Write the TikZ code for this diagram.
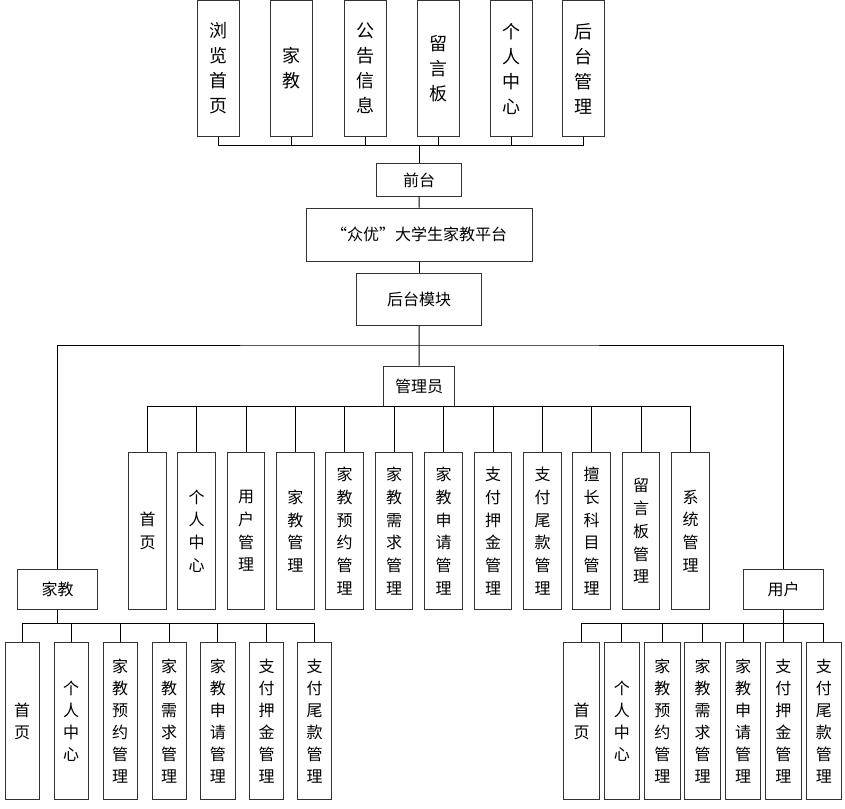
\documentclass[tikz,border=0pt]{standalone}
\usepackage{fontspec}
\newfontfamily\cjk{Noto Sans CJK SC}
\tikzset{
  box/.style={draw=black!80, line width=1pt, fill=white, inner sep=0pt, align=center},
  hdr/.style={box, font=\cjk\fontsize{16}{20}\selectfont},
  topv/.style={box, minimum width=42pt, minimum height=135pt, font=\cjk\fontsize{18}{25}\selectfont},
  admv/.style={box, minimum width=37.5pt, minimum height=156.6pt, font=\cjk\fontsize{16}{22.7}\selectfont},
  lv/.style={box, minimum width=34.3pt, minimum height=156.7pt, font=\cjk\fontsize{16}{22}\selectfont},
  rv/.style={box, minimum width=35.5pt, minimum height=157.3pt, font=\cjk\fontsize{16}{22}\selectfont},
  wire/.style={draw=black, line width=1pt}
}
\begin{document}
\begin{tikzpicture}[x=1pt,y=-1pt]
\useasboundingbox (0,0) rectangle (845,808);
% top row
\foreach \x/\t [count=\i] in {218/{浏\\览\\首\\页}, 291.3/{家\\教}, 365/{公\\告\\信\\息}, 438.5/{留\\言\\板}, 511.3/{个\\人\\中\\心}, 583.7/{后\\台\\管\\理}}
  \node[topv] (t\i) at (\x,68.5) {\t};
\node[hdr, minimum width=85pt, minimum height=33pt] (qt) at (419,180) {前台};
\node[hdr, minimum width=226pt, minimum height=53pt] (pf) at (419.2,234.7) {“众优”大学生家教平台};
\node[hdr, minimum width=125pt, minimum height=52pt] (hm) at (419.2,299.3) {后台模块};
\node[hdr, minimum width=71pt, minimum height=40pt] (gly) at (419,386) {管理员};
\node[hdr, minimum width=80pt, minimum height=40pt] (jj) at (57.5,589.5) {家教};
\node[hdr, minimum width=80pt, minimum height=40pt] (yh) at (783.5,589.5) {用户};
\coordinate (topbus) at (419,145.3);
\foreach \i in {1,...,6}
  \draw[wire] (t\i.south) |- (topbus);
\draw[wire] (topbus) -- (qt.north);
\draw[wire] (qt.south) -- (pf.north);
\draw[wire] (pf.south) -- (hm.north);
\draw[wire] (hm.south) -- (gly.north);
\coordinate (hb) at (419,345);
\draw[wire] (jj.north) |- (hb) -| (yh.north);
% admin children
\foreach \x/\t [count=\i] in {147.7/{首\\页}, 196.5/{个\\人\\中\\心}, 246/{用\\户\\管\\理}, 295.3/{家\\教\\管\\理}, 344.7/{家\\教\\预\\约\\管\\理}, 394/{家\\教\\需\\求\\管\\理}, 443.5/{家\\教\\申\\请\\管\\理}, 493/{支\\付\\押\\金\\管\\理}, 542.5/{支\\付\\尾\\款\\管\\理}, 591.7/{擅\\长\\科\\目\\管\\理}, 641/{留\\言\\板\\管\\理}, 690.7/{系\\统\\管\\理}}
  {\node[admv] (a\i) at (\x,531) {\t};
   \draw[wire] (a\i.north) |- (gly.south);}
% left children
\coordinate (lb) at (57.5,623.3);
\draw[wire] (jj.south) -- (lb);
\foreach \x/\t [count=\i] in {22.2/{首\\页}, 71.2/{个\\人\\中\\心}, 120.2/{家\\教\\预\\约\\管\\理}, 169.2/{家\\教\\需\\求\\管\\理}, 217.9/{家\\教\\申\\请\\管\\理}, 266.5/{支\\付\\押\\金\\管\\理}, 314.5/{支\\付\\尾\\款\\管\\理}}
  {\node[lv] (l\i) at (\x,721.3) {\t};
   \draw[wire] (l\i.north) |- (lb);}
% right children
\coordinate (rb) at (783.5,623.3);
\draw[wire] (yh.south) -- (rb);
\foreach \x/\t [count=\i] in {581.5/{首\\页}, 621.8/{个\\人\\中\\心}, 662.3/{家\\教\\预\\约\\管\\理}, 702.7/{家\\教\\需\\求\\管\\理}, 743/{家\\教\\申\\请\\管\\理}, 783.3/{支\\付\\押\\金\\管\\理}, 823.8/{支\\付\\尾\\款\\管\\理}}
  {\node[rv] (r\i) at (\x,721.3) {\t};
   \draw[wire] (r\i.north) |- (rb);}
\end{tikzpicture}
\end{document}
